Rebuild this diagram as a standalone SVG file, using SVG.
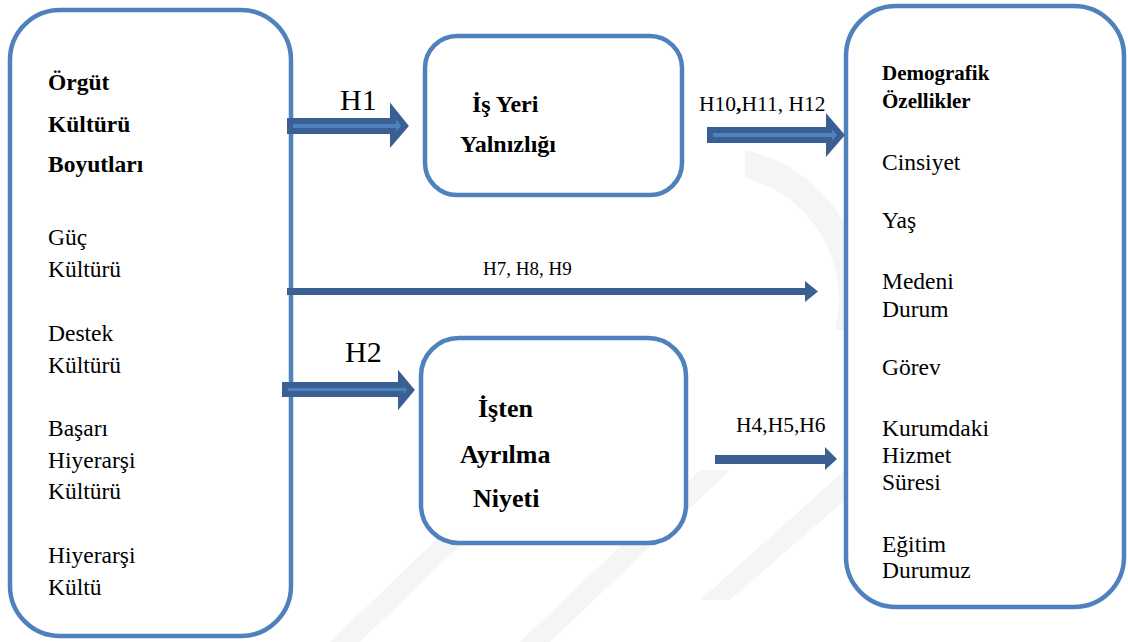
<svg xmlns="http://www.w3.org/2000/svg" width="1128" height="642" viewBox="0 0 1128 642">
<style>
.box{fill:#fff;stroke:#4F81BD;stroke-width:4.5}
text{font-family:'Liberation Serif','DejaVu Serif',serif;fill:#000}
.b{font-weight:bold}
.fat{fill:#4F81BD;stroke:#3A6093;stroke-width:6;stroke-linejoin:miter}
.solid{fill:#3A6093}
.wm{fill:#f5f5f5}
</style>
<rect width="1128" height="642" fill="#fff"/>
<g id="watermark">
<path class="wm" d="M745,150 A150,150 0 0 1 860,330 L835,330 A125,125 0 0 0 745,178 Z"/>
<polygon class="wm" points="330,642 560,420 590,420 360,642"/>
<polygon class="wm" points="520,642 700,470 730,470 550,642"/>
<polygon class="wm" points="700,600 845,470 845,500 730,600"/>
</g>
<g id="node-orgut">
<rect class="box" x="10" y="10" width="281" height="626" rx="50"/>
<text class="b" font-size="23.5" x="48" y="90">Örgüt</text>
<text class="b" font-size="23.5" x="48" y="132">Kültürü</text>
<text class="b" font-size="23.5" x="48" y="172">Boyutları</text>
<text font-size="23.5" x="48" y="245">Güç</text>
<text font-size="23.5" x="48" y="277">Kültürü</text>
<text font-size="23.5" x="48" y="341">Destek</text>
<text font-size="23.5" x="48" y="373">Kültürü</text>
<text font-size="23.5" x="48" y="436">Başarı</text>
<text font-size="23.5" x="48" y="468">Hiyerarşi</text>
<text font-size="23.5" x="48" y="499">Kültürü</text>
<text font-size="23.5" x="48" y="563">Hiyerarşi</text>
<text font-size="23.5" x="48" y="595">Kültü</text>
</g>
<g id="node-isyeri">
<rect class="box" x="425" y="36" width="257" height="159" rx="32"/>
<text class="b" font-size="24" x="472" y="112">İş Yeri</text>
<text class="b" font-size="24" x="460" y="152">Yalnızlığı</text>
</g>
<g id="node-isten">
<rect class="box" x="421" y="338" width="265" height="205" rx="38"/>
<text class="b" font-size="26" x="478" y="417">İşten</text>
<text class="b" font-size="26" x="460" y="463">Ayrılma</text>
<text class="b" font-size="26" x="473" y="507">Niyeti</text>
</g>
<g id="node-demografik">
<rect class="box" x="846" y="6" width="278" height="601" rx="50"/>
<text class="b" font-size="21" x="882" y="80">Demografik</text>
<text class="b" font-size="21" x="882" y="108">Özellikler</text>
<text font-size="23.5" x="882" y="170">Cinsiyet</text>
<text font-size="23.5" x="882" y="228">Yaş</text>
<text font-size="23.5" x="882" y="289">Medeni</text>
<text font-size="23.5" x="882" y="317">Durum</text>
<text font-size="23.5" x="882" y="375">Görev</text>
<text font-size="23.5" x="882" y="436">Kurumdaki</text>
<text font-size="23.5" x="882" y="463">Hizmet</text>
<text font-size="23.5" x="882" y="490">Süresi</text>
<text font-size="23.5" x="882" y="552">Eğitim</text>
<text font-size="23.5" x="882" y="578">Durumuz</text>
</g>
<g id="connectors">
<polygon class="fat" points="290,121 393,121 393,111 405,126 393,140 393,131 290,131"/>
<text font-size="30" x="340" y="110">H1</text>
<polygon class="fat" points="710,130 829,130 829,121 841,135 829,149 829,140 710,140"/>
<text font-size="21.5" x="699" y="111">H10<tspan font-weight="bold">,</tspan>H11, H12</text>
<rect class="solid" x="287" y="288" width="520" height="7"/>
<polygon class="solid" points="805,281 818,291.5 805,302"/>
<text font-size="19" x="483" y="275">H7, H8, H9</text>
<polygon class="fat" points="285,385 401,385 401,378 411,390 401,402 401,394 285,394"/>
<text font-size="30" x="345" y="362">H2</text>
<polygon class="solid" points="715,455 825,455 825,447 837,459 825,470 825,464 715,464"/>
<text font-size="21.5" x="736" y="432">H4,H5,H6</text>
</g>
</svg>
